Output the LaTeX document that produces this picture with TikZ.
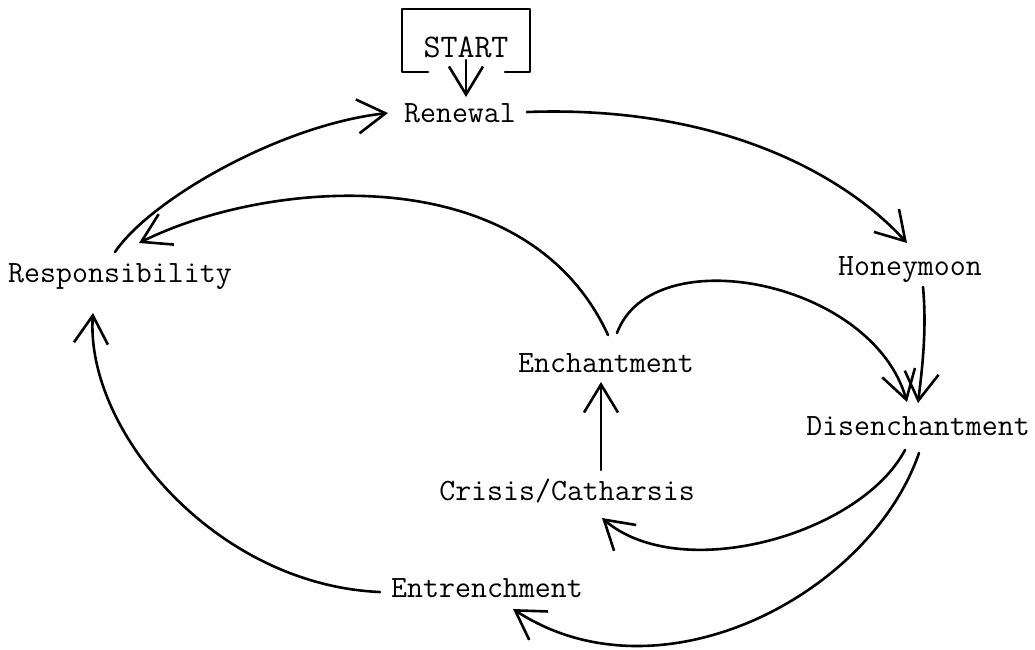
\documentclass[tikz,border=0pt]{standalone}
\usetikzlibrary{arrows.meta}
\begin{document}
\begin{tikzpicture}[x=1pt,y=-1pt,
  label/.style={anchor=base,inner sep=0pt,font=\fontsize{31}{36}\selectfont\ttfamily},
  flow/.style={line width=2.6pt,line cap=round,
    -{Straight Barb[length=28pt,width=34pt,line width=2.6pt]}},
  frame/.style={line width=2.6pt,line cap=round,line join=round}]
\useasboundingbox (0,0) rectangle (1035,649);

% stages of the cycle
\node[label,font=\fontsize{33}{38}\selectfont\ttfamily] (start) at (466,57) {START};
\node[label] (ren)  at (460,122) {Renewal};
\node[label] (hon)  at (910,275) {Honeymoon};
\node[label] (resp) at (120,282) {Responsibility};
\node[label] (ench) at (606,372) {Enchantment};
\node[label] (dis)  at (918,435) {Disenchantment};
\node[label] (cris) at (567,500) {Crisis/Catharsis};
\node[label] (entr) at (487,597) {Entrenchment};

% open-bottomed frame round START
\draw[frame] ([shift={(-38,15)}]start.base) -- ([shift={(-64,15)}]start.base)
  -- ([shift={(-64,-48)}]start.base) -- ([shift={(64,-48)}]start.base)
  -- ([shift={(64,15)}]start.base) -- ([shift={(39,15)}]start.base);

% connectors
\draw[flow] ([shift={(0,3)}]start.base) -- ([shift={(6,-25)}]ren.base);
\draw[flow] ([shift={(67,-10)}]ren.base)
  .. controls (720,105) and (845,175) .. ([shift={(-3,-32)}]hon.base);
\draw[flow] ([shift={(13,12)}]hon.base)
  .. controls (927,330) and (922,370) .. ([shift={(0,-32)}]dis.base);
\draw[flow] ([shift={(11,-39)}]ench.base)
  .. controls (652,238) and (872,280) .. ([shift={(-11,-33)}]dis.base);
\draw[flow] ([shift={(2,-37)}]ench.base)
  .. controls (525,155) and (265,180) .. ([shift={(19,-39)}]resp.base);
\draw[flow] ([shift={(-5,-30)}]resp.base)
  .. controls (150,200) and (280,125) .. ([shift={(-72,-9)}]ren.base);
\draw[flow] ([shift={(34,-30)}]cris.base) -- ([shift={(-5,10)}]ench.base);
\draw[flow] ([shift={(-13,15)}]dis.base)
  .. controls (860,535) and (680,585) .. ([shift={(35,18)}]cris.base);
\draw[flow] ([shift={(1,18)}]dis.base)
  .. controls (870,595) and (660,705) .. ([shift={(26,12)}]entr.base);
\draw[flow] ([shift={(-107,-5)}]entr.base)
  .. controls (215,585) and (85,430) .. ([shift={(-27,31)}]resp.base);
\end{tikzpicture}
\end{document}
